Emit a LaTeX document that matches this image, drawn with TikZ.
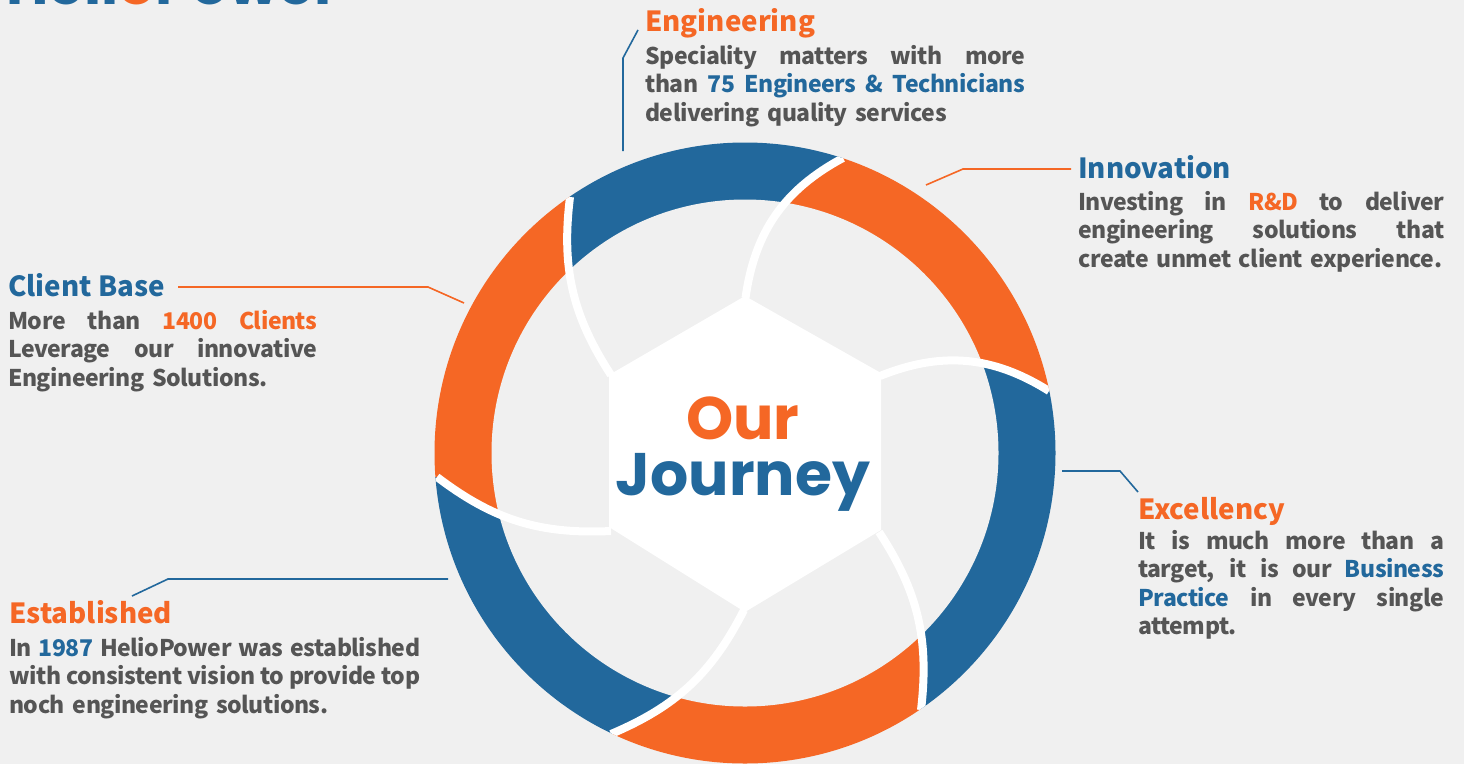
\documentclass[tikz,border=0pt]{standalone}
\usepackage{fontspec}
\setmainfont{Noto Sans CJK SC}
\newfontfamily\bodyfont[LetterSpace=-2]{Noto Sans CJK SC}
\newfontfamily\headfont{Poppins}
\usetikzlibrary{positioning,calc}
\definecolor{hpblue}{HTML}{22689C}
\definecolor{hporange}{HTML}{F56725}
\definecolor{hpgrey}{HTML}{555555}
\definecolor{hpback}{HTML}{F0F0F0}
\newcommand{\fullline}[1]{\makebox[\hsize][s]{\spaceskip=0.2em plus 1fil minus 0.1em\relax #1}\\}
\newcommand{\hb}[1]{\textcolor{hpblue}{#1}}
\newcommand{\ho}[1]{\textcolor{hporange}{#1}}
\tikzset{
  title/.style={inner sep=0pt,anchor=base west,font=\bfseries\fontsize{27.7}{32}\selectfont},
  body/.style={inner sep=0pt,anchor=base west,align=left,text=hpgrey,font=\bodyfont\bfseries\fontsize{23}{28.6}\selectfont},
  leader/.style={line width=1.6pt},
  seam/.style={draw=white,line width=8pt}
}
\begin{document}
\begin{tikzpicture}[x=1pt,y=-1pt]
  \useasboundingbox (0,0) rectangle (1464,764);
  \fill[hpback] (0,0) rectangle (1464,764);
  % logo, cut by the page
  \node[inner sep=0pt,anchor=base west,text=hpblue] (logo) at (6,4)
    {\headfont\bfseries\fontsize{58}{58}\selectfont Heli\ho{o}Power};
  \coordinate (c) at (745,453);
  % ring, one piece at a time
  \coordinate (s1) at (745.5,298); \coordinate (e1) at (843,158);
  \coordinate (s2) at (880,376);   \coordinate (e2) at (1049,391);
  \coordinate (s3) at (879,532);   \coordinate (e3) at (921,710);
  \coordinate (s4) at (744,610);   \coordinate (e4) at (611,734);
  \coordinate (s5) at (611,531);   \coordinate (e5) at (437,477);
  \coordinate (s6) at (611,375);   \coordinate (e6) at (570,197);
  \begin{scope}
    \clip (c) circle (310.5);
    \foreach \i/\j/\bnd/\bndj/\col in {1/2/27/27/hporange,2/3/27/20/hpblue,3/4/20/20/hporange,4/5/20/20/hpblue,5/6/20/20/hporange,6/1/20/27/hpblue}
      \fill[\col] (c) -- (s\i) to[bend left=\bnd] (e\i) -- ($(c)!1.6!(e\i)$) -- ($(c)!1.6!(e\j)$) -- (e\j) to[bend right=\bndj] (s\j) -- cycle;
    \fill[hpback] (c) circle (253.5);
    \foreach \i/\bnd in {1/27,2/27,3/20,4/20,5/20,6/20}
      \draw[seam] (s\i) to[bend left=\bnd] (e\i);
  \end{scope}
  \fill[white] (745,296) -- (881,373) -- (881,530) -- (745,612) -- (609,527) -- (609,375) -- cycle;
  \node[align=center,inner sep=0pt,anchor=base] (our) at (743,439)
    {\headfont\bfseries\fontsize{60}{56}\selectfont\ho{Our}};
  \node[align=center,inner sep=0pt,anchor=base] (journey) at (743,495)
    {\headfont\bfseries\fontsize{60}{56}\selectfont\hb{Journey}};
  % texts
  \node[title,text=hporange] (engt) at (645,31) {Engineering};
  \node[body,text width=380pt] (engb) at (645,64)
    {\fullline{Speciality matters with more}\fullline{than \hb{75 Engineers \& Technicians}}\mbox{delivering quality services}};
  \node[title,text=hpblue] (innt) at (1078,178) {Innovation};
  \node[body,text width=366pt] (innb) at (1078,210)
    {\fullline{Investing in \ho{R\&D} to deliver}\fullline{engineering solutions that}\mbox{create unmet client experience.}};
  \node[title,text=hpblue] (clit) at (8,296) {Client Base};
  \node[body,text width=309pt] (clib) at (8,329)
    {\fullline{More than \ho{1400 Clients}}\fullline{Leverage our innovative}\mbox{Engineering Solutions.}};
  \node[title,text=hporange] (exct) at (1138,519) {Excellency};
  \node[body,text width=306pt] (excb) at (1138,549)
    {\fullline{It is much more than a}\fullline{target, it is our \hb{Business}}\fullline{\hb{Practice} in every single}\mbox{attempt.}};
  \node[title,text=hporange] (estt) at (9,623) {Established};
  \node[body,text width=411pt] (estb) at (9,656)
    {\fullline{In \hb{1987} HelioPower was established}\fullline{with consistent vision to provide top}\mbox{noch engineering solutions.}};
  % leaders
  \coordinate (engl) at (638,30); \coordinate (engk) at (623,58); \coordinate (engr) at (623,151);
  \coordinate (innl) at (1071,169); \coordinate (innk) at (963,169); \coordinate (innr) at (926,185);
  \coordinate (clil) at (178,287); \coordinate (clik) at (428,287); \coordinate (clir) at (464,303);
  \coordinate (excl) at (1138,492); \coordinate (exck) at (1120,471); \coordinate (excr) at (1062,471);
  \coordinate (estl) at (132,596); \coordinate (estk) at (168,579); \coordinate (estr) at (448,579);
  \draw[leader,hpblue] (engl) -- (engk) -- (engr);
  \draw[leader,hporange] (innl) -- (innk) -- (innr);
  \draw[leader,hporange] (clil) -- (clik) -- (clir);
  \draw[leader,hpblue] (excl) -- (exck) -- (excr);
  \draw[leader,hpblue] (estl) -- (estk) -- (estr);
\end{tikzpicture}
\end{document}
